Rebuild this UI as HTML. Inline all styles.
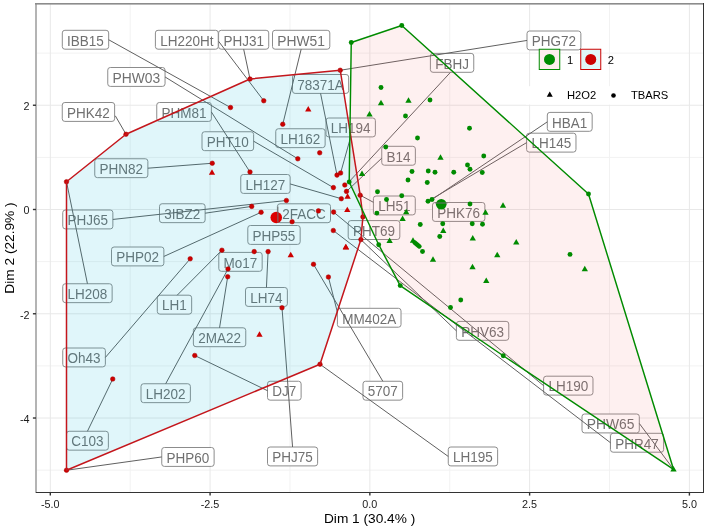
<!DOCTYPE html><html><head><meta charset="utf-8"><style>html,body{margin:0;padding:0;background:#fff;}svg{display:block;will-change:transform;filter:blur(0.3px);}</style></head><body><svg width="708" height="532" viewBox="0 0 708 532" font-family="&quot;Liberation Sans&quot;, sans-serif">
<rect x="0" y="0" width="708" height="532" fill="#fff"/>
<defs><clipPath id="pc"><rect x="36" y="3.6" width="667.3" height="488.9"/></clipPath></defs>
<line x1="130.19" y1="3.6" x2="130.19" y2="492.5" stroke="#f2f2f2" stroke-width="1"/>
<line x1="289.96" y1="3.6" x2="289.96" y2="492.5" stroke="#f2f2f2" stroke-width="1"/>
<line x1="449.74" y1="3.6" x2="449.74" y2="492.5" stroke="#f2f2f2" stroke-width="1"/>
<line x1="609.51" y1="3.6" x2="609.51" y2="492.5" stroke="#f2f2f2" stroke-width="1"/>
<line x1="36" y1="53.11" x2="703.3" y2="53.11" stroke="#f2f2f2" stroke-width="1"/>
<line x1="36" y1="157.37" x2="703.3" y2="157.37" stroke="#f2f2f2" stroke-width="1"/>
<line x1="36" y1="261.63" x2="703.3" y2="261.63" stroke="#f2f2f2" stroke-width="1"/>
<line x1="36" y1="365.89" x2="703.3" y2="365.89" stroke="#f2f2f2" stroke-width="1"/>
<line x1="36" y1="470.15" x2="703.3" y2="470.15" stroke="#f2f2f2" stroke-width="1"/>
<line x1="50.30" y1="3.6" x2="50.30" y2="492.5" stroke="#e8e8e8" stroke-width="1"/>
<line x1="210.08" y1="3.6" x2="210.08" y2="492.5" stroke="#e8e8e8" stroke-width="1"/>
<line x1="369.85" y1="3.6" x2="369.85" y2="492.5" stroke="#e8e8e8" stroke-width="1"/>
<line x1="529.62" y1="3.6" x2="529.62" y2="492.5" stroke="#e8e8e8" stroke-width="1"/>
<line x1="689.40" y1="3.6" x2="689.40" y2="492.5" stroke="#e8e8e8" stroke-width="1"/>
<line x1="36" y1="105.24" x2="703.3" y2="105.24" stroke="#e8e8e8" stroke-width="1"/>
<line x1="36" y1="209.50" x2="703.3" y2="209.50" stroke="#e8e8e8" stroke-width="1"/>
<line x1="36" y1="313.76" x2="703.3" y2="313.76" stroke="#e8e8e8" stroke-width="1"/>
<line x1="36" y1="418.02" x2="703.3" y2="418.02" stroke="#e8e8e8" stroke-width="1"/>
<rect x="156.75" y="102.50" width="54.62" height="18.90" rx="2.6" fill="#fff" stroke="#8c8c8c" stroke-width="1"/>
<text x="161.55" y="117.70" font-size="13.8" fill="#707070" textLength="45.02" lengthAdjust="spacingAndGlyphs">PHM81</text>
<rect x="107.75" y="67.50" width="57.31" height="18.90" rx="2.6" fill="#fff" stroke="#8c8c8c" stroke-width="1"/>
<text x="112.55" y="82.70" font-size="13.8" fill="#707070" textLength="47.71" lengthAdjust="spacingAndGlyphs">PHW03</text>
<rect x="62.30" y="30.30" width="46.38" height="18.90" rx="2.6" fill="#fff" stroke="#8c8c8c" stroke-width="1"/>
<text x="67.10" y="45.50" font-size="13.8" fill="#707070" textLength="36.78" lengthAdjust="spacingAndGlyphs">IBB15</text>
<rect x="218.60" y="30.30" width="50.12" height="18.90" rx="2.6" fill="#fff" stroke="#8c8c8c" stroke-width="1"/>
<text x="223.40" y="45.50" font-size="13.8" fill="#707070" textLength="40.52" lengthAdjust="spacingAndGlyphs">PHJ31</text>
<rect x="155.40" y="30.30" width="62.88" height="18.90" rx="2.6" fill="#fff" stroke="#8c8c8c" stroke-width="1"/>
<text x="160.20" y="45.50" font-size="13.8" fill="#707070" textLength="53.28" lengthAdjust="spacingAndGlyphs">LH220Ht</text>
<rect x="272.50" y="30.30" width="57.31" height="18.90" rx="2.6" fill="#fff" stroke="#8c8c8c" stroke-width="1"/>
<text x="277.30" y="45.50" font-size="13.8" fill="#707070" textLength="47.71" lengthAdjust="spacingAndGlyphs">PHW51</text>
<rect x="527.00" y="31.00" width="53.87" height="18.90" rx="2.6" fill="#fff" stroke="#8c8c8c" stroke-width="1"/>
<text x="531.80" y="46.20" font-size="13.8" fill="#707070" textLength="44.27" lengthAdjust="spacingAndGlyphs">PHG72</text>
<rect x="430.40" y="53.40" width="43.35" height="18.90" rx="2.6" fill="#fff" stroke="#8c8c8c" stroke-width="1"/>
<text x="435.20" y="68.60" font-size="13.8" fill="#707070" textLength="33.75" lengthAdjust="spacingAndGlyphs">FBHJ</text>
<rect x="292.50" y="74.50" width="56.15" height="18.90" rx="2.6" fill="#fff" stroke="#8c8c8c" stroke-width="1"/>
<text x="297.30" y="89.70" font-size="13.8" fill="#707070" textLength="46.55" lengthAdjust="spacingAndGlyphs">78371A</text>
<rect x="62.25" y="102.50" width="52.37" height="18.90" rx="2.6" fill="#fff" stroke="#8c8c8c" stroke-width="1"/>
<text x="67.05" y="117.70" font-size="13.8" fill="#707070" textLength="42.77" lengthAdjust="spacingAndGlyphs">PHK42</text>
<rect x="326.00" y="118.00" width="49.38" height="18.90" rx="2.6" fill="#fff" stroke="#8c8c8c" stroke-width="1"/>
<text x="330.80" y="133.20" font-size="13.8" fill="#707070" textLength="39.78" lengthAdjust="spacingAndGlyphs">LH194</text>
<rect x="526.60" y="133.20" width="49.38" height="18.90" rx="2.6" fill="#fff" stroke="#8c8c8c" stroke-width="1"/>
<text x="531.40" y="148.40" font-size="13.8" fill="#707070" textLength="39.78" lengthAdjust="spacingAndGlyphs">LH145</text>
<rect x="547.30" y="112.40" width="44.87" height="18.90" rx="2.6" fill="#fff" stroke="#8c8c8c" stroke-width="1"/>
<text x="552.10" y="127.60" font-size="13.8" fill="#707070" textLength="35.27" lengthAdjust="spacingAndGlyphs">HBA1</text>
<rect x="202.00" y="131.75" width="51.62" height="18.90" rx="2.6" fill="#fff" stroke="#8c8c8c" stroke-width="1"/>
<text x="206.80" y="146.95" font-size="13.8" fill="#707070" textLength="42.02" lengthAdjust="spacingAndGlyphs">PHT10</text>
<rect x="275.75" y="128.75" width="49.38" height="18.90" rx="2.6" fill="#fff" stroke="#8c8c8c" stroke-width="1"/>
<text x="280.55" y="143.95" font-size="13.8" fill="#707070" textLength="39.78" lengthAdjust="spacingAndGlyphs">LH162</text>
<rect x="381.75" y="146.30" width="33.62" height="18.90" rx="2.6" fill="#fff" stroke="#8c8c8c" stroke-width="1"/>
<text x="386.55" y="161.50" font-size="13.8" fill="#707070" textLength="24.02" lengthAdjust="spacingAndGlyphs">B14</text>
<rect x="94.75" y="158.75" width="53.12" height="18.90" rx="2.6" fill="#fff" stroke="#8c8c8c" stroke-width="1"/>
<text x="99.55" y="173.95" font-size="13.8" fill="#707070" textLength="43.52" lengthAdjust="spacingAndGlyphs">PHN82</text>
<rect x="240.75" y="174.50" width="49.38" height="18.90" rx="2.6" fill="#fff" stroke="#8c8c8c" stroke-width="1"/>
<text x="245.55" y="189.70" font-size="13.8" fill="#707070" textLength="39.78" lengthAdjust="spacingAndGlyphs">LH127</text>
<rect x="373.40" y="196.00" width="41.87" height="18.90" rx="2.6" fill="#fff" stroke="#8c8c8c" stroke-width="1"/>
<text x="378.20" y="211.20" font-size="13.8" fill="#707070" textLength="32.27" lengthAdjust="spacingAndGlyphs">LH51</text>
<rect x="432.50" y="202.50" width="52.37" height="18.90" rx="2.6" fill="#fff" stroke="#8c8c8c" stroke-width="1"/>
<text x="437.30" y="217.70" font-size="13.8" fill="#707070" textLength="42.77" lengthAdjust="spacingAndGlyphs">PHK76</text>
<rect x="159.50" y="203.75" width="45.62" height="18.90" rx="2.6" fill="#fff" stroke="#8c8c8c" stroke-width="1"/>
<text x="164.30" y="218.95" font-size="13.8" fill="#707070" textLength="36.02" lengthAdjust="spacingAndGlyphs">3IBZ2</text>
<rect x="62.75" y="210.00" width="50.12" height="18.90" rx="2.6" fill="#fff" stroke="#8c8c8c" stroke-width="1"/>
<text x="67.55" y="225.20" font-size="13.8" fill="#707070" textLength="40.52" lengthAdjust="spacingAndGlyphs">PHJ65</text>
<rect x="277.40" y="203.80" width="53.11" height="18.90" rx="2.6" fill="#fff" stroke="#8c8c8c" stroke-width="1"/>
<text x="282.20" y="219.00" font-size="13.8" fill="#707070" textLength="43.51" lengthAdjust="spacingAndGlyphs">2FACC</text>
<rect x="348.20" y="220.60" width="51.62" height="18.90" rx="2.6" fill="#fff" stroke="#8c8c8c" stroke-width="1"/>
<text x="353.00" y="235.80" font-size="13.8" fill="#707070" textLength="42.02" lengthAdjust="spacingAndGlyphs">PHT69</text>
<rect x="247.80" y="225.50" width="52.37" height="18.90" rx="2.6" fill="#fff" stroke="#8c8c8c" stroke-width="1"/>
<text x="252.60" y="240.70" font-size="13.8" fill="#707070" textLength="42.77" lengthAdjust="spacingAndGlyphs">PHP55</text>
<rect x="111.50" y="247.00" width="52.37" height="18.90" rx="2.6" fill="#fff" stroke="#8c8c8c" stroke-width="1"/>
<text x="116.30" y="262.20" font-size="13.8" fill="#707070" textLength="42.77" lengthAdjust="spacingAndGlyphs">PHP02</text>
<rect x="218.80" y="252.40" width="43.37" height="18.90" rx="2.6" fill="#fff" stroke="#8c8c8c" stroke-width="1"/>
<text x="223.60" y="267.60" font-size="13.8" fill="#707070" textLength="33.77" lengthAdjust="spacingAndGlyphs">Mo17</text>
<rect x="157.30" y="295.20" width="34.37" height="18.90" rx="2.6" fill="#fff" stroke="#8c8c8c" stroke-width="1"/>
<text x="162.10" y="310.40" font-size="13.8" fill="#707070" textLength="24.77" lengthAdjust="spacingAndGlyphs">LH1</text>
<rect x="245.50" y="287.50" width="41.87" height="18.90" rx="2.6" fill="#fff" stroke="#8c8c8c" stroke-width="1"/>
<text x="250.30" y="302.70" font-size="13.8" fill="#707070" textLength="32.27" lengthAdjust="spacingAndGlyphs">LH74</text>
<rect x="62.75" y="283.75" width="49.38" height="18.90" rx="2.6" fill="#fff" stroke="#8c8c8c" stroke-width="1"/>
<text x="67.55" y="298.95" font-size="13.8" fill="#707070" textLength="39.78" lengthAdjust="spacingAndGlyphs">LH208</text>
<rect x="337.40" y="308.30" width="63.62" height="18.90" rx="2.6" fill="#fff" stroke="#8c8c8c" stroke-width="1"/>
<text x="342.20" y="323.50" font-size="13.8" fill="#707070" textLength="54.02" lengthAdjust="spacingAndGlyphs">MM402A</text>
<rect x="193.38" y="327.80" width="52.37" height="18.90" rx="2.6" fill="#fff" stroke="#8c8c8c" stroke-width="1"/>
<text x="198.18" y="343.00" font-size="13.8" fill="#707070" textLength="42.77" lengthAdjust="spacingAndGlyphs">2MA22</text>
<rect x="456.40" y="321.40" width="52.37" height="18.90" rx="2.6" fill="#fff" stroke="#8c8c8c" stroke-width="1"/>
<text x="461.20" y="336.60" font-size="13.8" fill="#707070" textLength="42.77" lengthAdjust="spacingAndGlyphs">PHV63</text>
<rect x="62.75" y="348.00" width="42.63" height="18.90" rx="2.6" fill="#fff" stroke="#8c8c8c" stroke-width="1"/>
<text x="67.55" y="363.20" font-size="13.8" fill="#707070" textLength="33.03" lengthAdjust="spacingAndGlyphs">Oh43</text>
<rect x="141.00" y="383.75" width="49.38" height="18.90" rx="2.6" fill="#fff" stroke="#8c8c8c" stroke-width="1"/>
<text x="145.80" y="398.95" font-size="13.8" fill="#707070" textLength="39.78" lengthAdjust="spacingAndGlyphs">LH202</text>
<rect x="267.50" y="381.25" width="33.61" height="18.90" rx="2.6" fill="#fff" stroke="#8c8c8c" stroke-width="1"/>
<text x="272.30" y="396.45" font-size="13.8" fill="#707070" textLength="24.01" lengthAdjust="spacingAndGlyphs">DJ7</text>
<rect x="363.00" y="381.25" width="39.63" height="18.90" rx="2.6" fill="#fff" stroke="#8c8c8c" stroke-width="1"/>
<text x="367.80" y="396.45" font-size="13.8" fill="#707070" textLength="30.03" lengthAdjust="spacingAndGlyphs">5707</text>
<rect x="610.50" y="433.30" width="53.12" height="18.90" rx="2.6" fill="#fff" stroke="#8c8c8c" stroke-width="1"/>
<text x="615.30" y="448.50" font-size="13.8" fill="#707070" textLength="43.52" lengthAdjust="spacingAndGlyphs">PHR47</text>
<rect x="543.60" y="376.20" width="49.38" height="18.90" rx="2.6" fill="#fff" stroke="#8c8c8c" stroke-width="1"/>
<text x="548.40" y="391.40" font-size="13.8" fill="#707070" textLength="39.78" lengthAdjust="spacingAndGlyphs">LH190</text>
<rect x="582.00" y="414.00" width="57.31" height="18.90" rx="2.6" fill="#fff" stroke="#8c8c8c" stroke-width="1"/>
<text x="586.80" y="429.20" font-size="13.8" fill="#707070" textLength="47.71" lengthAdjust="spacingAndGlyphs">PHW65</text>
<rect x="66.50" y="431.25" width="41.87" height="18.90" rx="2.6" fill="#fff" stroke="#8c8c8c" stroke-width="1"/>
<text x="71.30" y="446.45" font-size="13.8" fill="#707070" textLength="32.27" lengthAdjust="spacingAndGlyphs">C103</text>
<rect x="448.25" y="447.00" width="49.38" height="18.90" rx="2.6" fill="#fff" stroke="#8c8c8c" stroke-width="1"/>
<text x="453.05" y="462.20" font-size="13.8" fill="#707070" textLength="39.78" lengthAdjust="spacingAndGlyphs">LH195</text>
<rect x="161.75" y="447.50" width="52.37" height="18.90" rx="2.6" fill="#fff" stroke="#8c8c8c" stroke-width="1"/>
<text x="166.55" y="462.70" font-size="13.8" fill="#707070" textLength="42.77" lengthAdjust="spacingAndGlyphs">PHP60</text>
<rect x="267.50" y="447.00" width="50.12" height="18.90" rx="2.6" fill="#fff" stroke="#8c8c8c" stroke-width="1"/>
<text x="272.30" y="462.20" font-size="13.8" fill="#707070" textLength="40.52" lengthAdjust="spacingAndGlyphs">PHJ75</text>
<line x1="211.37" y1="111.95" x2="250.00" y2="172.00" stroke="#606060" stroke-width="1.0"/>
<line x1="165.06" y1="76.95" x2="297.80" y2="158.80" stroke="#606060" stroke-width="1.0"/>
<line x1="108.68" y1="39.75" x2="230.50" y2="107.50" stroke="#606060" stroke-width="1.0"/>
<line x1="243.66" y1="49.20" x2="250.00" y2="79.00" stroke="#606060" stroke-width="1.0"/>
<line x1="218.60" y1="41.30" x2="263.75" y2="100.75" stroke="#606060" stroke-width="1.0"/>
<line x1="301.16" y1="49.20" x2="282.75" y2="124.25" stroke="#606060" stroke-width="1.0"/>
<line x1="527.00" y1="40.45" x2="340.25" y2="70.25" stroke="#606060" stroke-width="1.0"/>
<line x1="450.40" y1="72.40" x2="348.70" y2="182.20" stroke="#606060" stroke-width="1.0"/>
<line x1="320.57" y1="93.40" x2="337.00" y2="175.10" stroke="#606060" stroke-width="1.0"/>
<line x1="115.30" y1="115.80" x2="126.00" y2="134.25" stroke="#606060" stroke-width="1.0"/>
<line x1="350.69" y1="136.90" x2="340.60" y2="173.00" stroke="#606060" stroke-width="1.0"/>
<line x1="526.60" y1="142.65" x2="428.00" y2="201.25" stroke="#606060" stroke-width="1.0"/>
<line x1="547.30" y1="121.85" x2="432.00" y2="199.50" stroke="#606060" stroke-width="1.0"/>
<line x1="253.62" y1="141.20" x2="333.40" y2="187.60" stroke="#606060" stroke-width="1.0"/>
<line x1="381.75" y1="158.20" x2="346.50" y2="191.40" stroke="#606060" stroke-width="1.0"/>
<line x1="147.87" y1="168.20" x2="212.25" y2="163.25" stroke="#606060" stroke-width="1.0"/>
<line x1="290.13" y1="183.95" x2="341.30" y2="198.70" stroke="#606060" stroke-width="1.0"/>
<line x1="373.40" y1="202.30" x2="360.20" y2="195.20" stroke="#606060" stroke-width="1.0"/>
<line x1="205.12" y1="213.20" x2="251.70" y2="206.40" stroke="#606060" stroke-width="1.0"/>
<line x1="112.87" y1="219.45" x2="286.40" y2="200.50" stroke="#606060" stroke-width="1.0"/>
<line x1="163.87" y1="256.45" x2="261.10" y2="212.30" stroke="#606060" stroke-width="1.0"/>
<line x1="177.20" y1="295.20" x2="221.90" y2="250.20" stroke="#606060" stroke-width="1.0"/>
<line x1="266.44" y1="287.50" x2="268.10" y2="251.60" stroke="#606060" stroke-width="1.0"/>
<line x1="87.44" y1="283.75" x2="66.50" y2="181.75" stroke="#606060" stroke-width="1.0"/>
<line x1="337.40" y1="312.30" x2="328.40" y2="277.00" stroke="#606060" stroke-width="1.0"/>
<line x1="219.56" y1="327.80" x2="227.70" y2="276.70" stroke="#606060" stroke-width="1.0"/>
<line x1="456.40" y1="330.85" x2="360.90" y2="239.60" stroke="#606060" stroke-width="1.0"/>
<line x1="105.38" y1="357.45" x2="190.20" y2="258.80" stroke="#606060" stroke-width="1.0"/>
<line x1="165.69" y1="383.75" x2="228.00" y2="269.00" stroke="#606060" stroke-width="1.0"/>
<line x1="267.50" y1="390.70" x2="194.75" y2="355.50" stroke="#606060" stroke-width="1.0"/>
<line x1="382.82" y1="381.25" x2="313.50" y2="264.30" stroke="#606060" stroke-width="1.0"/>
<line x1="610.50" y1="442.75" x2="333.30" y2="230.50" stroke="#606060" stroke-width="1.0"/>
<line x1="543.60" y1="385.65" x2="333.60" y2="212.10" stroke="#606060" stroke-width="1.0"/>
<line x1="639.31" y1="423.45" x2="673.50" y2="469.30" stroke="#606060" stroke-width="1.0"/>
<line x1="87.44" y1="431.25" x2="112.75" y2="379.00" stroke="#606060" stroke-width="1.0"/>
<line x1="448.25" y1="456.45" x2="320.00" y2="364.25" stroke="#606060" stroke-width="1.0"/>
<line x1="161.75" y1="456.95" x2="66.50" y2="470.25" stroke="#606060" stroke-width="1.0"/>
<line x1="292.56" y1="447.00" x2="282.00" y2="307.75" stroke="#606060" stroke-width="1.0"/>
<polygon points="66.50,181.75 126.00,134.25 250.00,79.00 340.25,70.25 360.20,195.20 362.90,216.90 360.90,239.60 320.00,364.25 66.50,470.25" fill="#00B9D7" fill-opacity="0.12" stroke="none"/>
<polygon points="351.25,42.50 401.75,25.50 588.50,194.00 673.50,469.30 503.25,355.75 400.20,285.60 378.70,244.70 349.20,182.00" fill="#F8766D" fill-opacity="0.105" stroke="none"/>
<circle cx="230.5" cy="107.5" r="2.3000000000000003" fill="#CC0000" stroke="#A80000" stroke-width="0.5"/>
<circle cx="263.75" cy="100.75" r="2.3000000000000003" fill="#CC0000" stroke="#A80000" stroke-width="0.5"/>
<circle cx="250" cy="79" r="2.3000000000000003" fill="#CC0000" stroke="#A80000" stroke-width="0.5"/>
<circle cx="282.75" cy="124.25" r="2.3000000000000003" fill="#CC0000" stroke="#A80000" stroke-width="0.5"/>
<circle cx="340.25" cy="70.25" r="2.3000000000000003" fill="#CC0000" stroke="#A80000" stroke-width="0.5"/>
<circle cx="126" cy="134.25" r="2.3000000000000003" fill="#CC0000" stroke="#A80000" stroke-width="0.5"/>
<circle cx="66.5" cy="181.75" r="2.3000000000000003" fill="#CC0000" stroke="#A80000" stroke-width="0.5"/>
<circle cx="212.25" cy="163.25" r="2.3000000000000003" fill="#CC0000" stroke="#A80000" stroke-width="0.5"/>
<circle cx="319.7" cy="152.8" r="2.3000000000000003" fill="#CC0000" stroke="#A80000" stroke-width="0.5"/>
<circle cx="297.8" cy="158.8" r="2.3000000000000003" fill="#CC0000" stroke="#A80000" stroke-width="0.5"/>
<circle cx="337" cy="175.1" r="2.3000000000000003" fill="#CC0000" stroke="#A80000" stroke-width="0.5"/>
<circle cx="340.6" cy="173.0" r="2.3000000000000003" fill="#CC0000" stroke="#A80000" stroke-width="0.5"/>
<circle cx="333.4" cy="187.6" r="2.3000000000000003" fill="#CC0000" stroke="#A80000" stroke-width="0.5"/>
<circle cx="344.8" cy="185.0" r="2.3000000000000003" fill="#CC0000" stroke="#A80000" stroke-width="0.5"/>
<circle cx="346.5" cy="191.4" r="2.3000000000000003" fill="#CC0000" stroke="#A80000" stroke-width="0.5"/>
<circle cx="341.3" cy="198.7" r="2.3000000000000003" fill="#CC0000" stroke="#A80000" stroke-width="0.5"/>
<circle cx="360.2" cy="195.2" r="2.3000000000000003" fill="#CC0000" stroke="#A80000" stroke-width="0.5"/>
<circle cx="333.6" cy="212.1" r="2.3000000000000003" fill="#CC0000" stroke="#A80000" stroke-width="0.5"/>
<circle cx="318.4" cy="210.9" r="2.3000000000000003" fill="#CC0000" stroke="#A80000" stroke-width="0.5"/>
<circle cx="362.9" cy="216.9" r="2.3000000000000003" fill="#CC0000" stroke="#A80000" stroke-width="0.5"/>
<circle cx="292.1" cy="221.7" r="2.3000000000000003" fill="#CC0000" stroke="#A80000" stroke-width="0.5"/>
<circle cx="250" cy="172" r="2.3000000000000003" fill="#CC0000" stroke="#A80000" stroke-width="0.5"/>
<circle cx="286.4" cy="200.5" r="2.3000000000000003" fill="#CC0000" stroke="#A80000" stroke-width="0.5"/>
<circle cx="251.7" cy="206.4" r="2.3000000000000003" fill="#CC0000" stroke="#A80000" stroke-width="0.5"/>
<circle cx="261.1" cy="212.3" r="2.3000000000000003" fill="#CC0000" stroke="#A80000" stroke-width="0.5"/>
<circle cx="333.3" cy="230.5" r="2.3000000000000003" fill="#CC0000" stroke="#A80000" stroke-width="0.5"/>
<circle cx="360.9" cy="239.6" r="2.3000000000000003" fill="#CC0000" stroke="#A80000" stroke-width="0.5"/>
<circle cx="190.2" cy="258.8" r="2.3000000000000003" fill="#CC0000" stroke="#A80000" stroke-width="0.5"/>
<circle cx="221.9" cy="250.2" r="2.3000000000000003" fill="#CC0000" stroke="#A80000" stroke-width="0.5"/>
<circle cx="254.2" cy="251.6" r="2.3000000000000003" fill="#CC0000" stroke="#A80000" stroke-width="0.5"/>
<circle cx="268.1" cy="251.6" r="2.3000000000000003" fill="#CC0000" stroke="#A80000" stroke-width="0.5"/>
<circle cx="228" cy="269" r="2.3000000000000003" fill="#CC0000" stroke="#A80000" stroke-width="0.5"/>
<circle cx="227.7" cy="276.7" r="2.3000000000000003" fill="#CC0000" stroke="#A80000" stroke-width="0.5"/>
<circle cx="313.5" cy="264.3" r="2.3000000000000003" fill="#CC0000" stroke="#A80000" stroke-width="0.5"/>
<circle cx="328.4" cy="277" r="2.3000000000000003" fill="#CC0000" stroke="#A80000" stroke-width="0.5"/>
<circle cx="282" cy="307.75" r="2.3000000000000003" fill="#CC0000" stroke="#A80000" stroke-width="0.5"/>
<circle cx="320" cy="364.25" r="2.3000000000000003" fill="#CC0000" stroke="#A80000" stroke-width="0.5"/>
<circle cx="194.75" cy="355.5" r="2.3000000000000003" fill="#CC0000" stroke="#A80000" stroke-width="0.5"/>
<circle cx="66.5" cy="470.25" r="2.3000000000000003" fill="#CC0000" stroke="#A80000" stroke-width="0.5"/>
<circle cx="112.75" cy="379" r="2.3000000000000003" fill="#CC0000" stroke="#A80000" stroke-width="0.5"/>
<circle cx="381" cy="87.5" r="2.45" fill="#008B00"/>
<circle cx="430" cy="100" r="2.45" fill="#008B00"/>
<circle cx="405.5" cy="116" r="2.45" fill="#008B00"/>
<circle cx="469.5" cy="128.25" r="2.45" fill="#008B00"/>
<circle cx="417.5" cy="138" r="2.45" fill="#008B00"/>
<circle cx="385.75" cy="147" r="2.45" fill="#008B00"/>
<circle cx="483.75" cy="156" r="2.45" fill="#008B00"/>
<circle cx="467.5" cy="165" r="2.45" fill="#008B00"/>
<circle cx="470" cy="169.25" r="2.45" fill="#008B00"/>
<circle cx="412" cy="171.5" r="2.45" fill="#008B00"/>
<circle cx="428.25" cy="171" r="2.45" fill="#008B00"/>
<circle cx="435" cy="172.25" r="2.45" fill="#008B00"/>
<circle cx="453.75" cy="172.25" r="2.45" fill="#008B00"/>
<circle cx="482.25" cy="172.5" r="2.45" fill="#008B00"/>
<circle cx="408" cy="180" r="2.45" fill="#008B00"/>
<circle cx="427.25" cy="182.5" r="2.45" fill="#008B00"/>
<circle cx="377.5" cy="191.75" r="2.45" fill="#008B00"/>
<circle cx="401.75" cy="195.75" r="2.45" fill="#008B00"/>
<circle cx="386.5" cy="199.5" r="2.45" fill="#008B00"/>
<circle cx="428" cy="201.25" r="2.45" fill="#008B00"/>
<circle cx="432" cy="199.5" r="2.45" fill="#008B00"/>
<circle cx="470" cy="204" r="2.45" fill="#008B00"/>
<circle cx="376.9" cy="213.1" r="2.45" fill="#008B00"/>
<circle cx="420.25" cy="224.5" r="2.45" fill="#008B00"/>
<circle cx="442.75" cy="223.75" r="2.45" fill="#008B00"/>
<circle cx="472.25" cy="223.75" r="2.45" fill="#008B00"/>
<circle cx="482.5" cy="224.25" r="2.45" fill="#008B00"/>
<circle cx="439.75" cy="236.5" r="2.45" fill="#008B00"/>
<circle cx="378.7" cy="244.7" r="2.45" fill="#008B00"/>
<circle cx="422.5" cy="251.5" r="2.45" fill="#008B00"/>
<circle cx="460.75" cy="300" r="2.45" fill="#008B00"/>
<circle cx="450.5" cy="307.5" r="2.45" fill="#008B00"/>
<circle cx="503.25" cy="355.75" r="2.45" fill="#008B00"/>
<circle cx="570" cy="254.4" r="2.45" fill="#008B00"/>
<circle cx="401.75" cy="25.5" r="2.45" fill="#008B00"/>
<circle cx="351.25" cy="42.5" r="2.45" fill="#008B00"/>
<circle cx="588.5" cy="194" r="2.45" fill="#008B00"/>
<circle cx="400.2" cy="285.6" r="2.45" fill="#008B00"/>
<circle cx="349.2" cy="182" r="2.45" fill="#008B00"/>
<polygon points="308.25,106.01 305.10,111.47 311.40,111.47" fill="#CC0000"/>
<polygon points="212.00,169.26 208.85,174.72 215.15,174.72" fill="#CC0000"/>
<polygon points="347.60,193.36 344.45,198.82 350.75,198.82" fill="#CC0000"/>
<polygon points="347.30,206.66 344.15,212.12 350.45,212.12" fill="#CC0000"/>
<polygon points="346.00,244.06 342.85,249.52 349.15,249.52" fill="#CC0000"/>
<polygon points="290.75,251.76 287.60,257.22 293.90,257.22" fill="#CC0000"/>
<polygon points="345.75,243.76 342.60,249.22 348.90,249.22" fill="#CC0000"/>
<polygon points="259.50,331.26 256.35,336.72 262.65,336.72" fill="#CC0000"/>
<polygon points="381.00,99.76 377.85,105.22 384.15,105.22" fill="#008B00"/>
<polygon points="408.50,97.26 405.35,102.72 411.65,102.72" fill="#008B00"/>
<polygon points="369.50,111.01 366.35,116.47 372.65,116.47" fill="#008B00"/>
<polygon points="440.50,154.26 437.35,159.72 443.65,159.72" fill="#008B00"/>
<polygon points="362.00,170.46 358.85,175.92 365.15,175.92" fill="#008B00"/>
<polygon points="503.00,202.26 499.85,207.72 506.15,207.72" fill="#008B00"/>
<polygon points="406.20,208.86 403.05,214.32 409.35,214.32" fill="#008B00"/>
<polygon points="402.60,215.56 399.45,221.02 405.75,221.02" fill="#008B00"/>
<polygon points="485.50,209.26 482.35,214.72 488.65,214.72" fill="#008B00"/>
<polygon points="443.25,227.51 440.10,232.97 446.40,232.97" fill="#008B00"/>
<polygon points="472.75,235.01 469.60,240.47 475.90,240.47" fill="#008B00"/>
<polygon points="389.60,237.46 386.45,242.92 392.75,242.92" fill="#008B00"/>
<polygon points="516.25,239.01 513.10,244.47 519.40,244.47" fill="#008B00"/>
<polygon points="433.00,256.26 429.85,261.72 436.15,261.72" fill="#008B00"/>
<polygon points="472.50,263.76 469.35,269.22 475.65,269.22" fill="#008B00"/>
<polygon points="486.25,277.51 483.10,282.97 489.40,282.97" fill="#008B00"/>
<polygon points="497.25,251.76 494.10,257.22 500.40,257.22" fill="#008B00"/>
<polygon points="584.80,265.86 581.65,271.32 587.95,271.32" fill="#008B00"/>
<polygon points="673.50,466.06 670.35,471.52 676.65,471.52" fill="#008B00"/>
<polygon points="413.00,237.26 409.85,242.72 416.15,242.72" fill="#008B00"/>
<line x1="414.6" y1="242.4" x2="419.4" y2="246.4" stroke="#008B00" stroke-width="4.6" stroke-linecap="round"/>
<polygon points="66.50,181.75 126.00,134.25 250.00,79.00 340.25,70.25 360.20,195.20 362.90,216.90 360.90,239.60 320.00,364.25 66.50,470.25" fill="none" stroke="#C4161C" stroke-width="1.5" stroke-linejoin="round"/>
<polygon points="351.25,42.50 401.75,25.50 588.50,194.00 673.50,469.30 503.25,355.75 400.20,285.60 378.70,244.70 349.20,182.00" fill="none" stroke="#008B00" stroke-width="1.45" stroke-linejoin="round"/>
<circle cx="276.25" cy="217.5" r="5.8" fill="#DD0000"/>
<circle cx="441.25" cy="204.25" r="5.3" fill="#008B00"/>
<line x1="277.9" y1="206.5" x2="277.9" y2="222.5" stroke="#707070" stroke-width="1"/>
<line x1="435" y1="203.0" x2="447.5" y2="203.0" stroke="#707070" stroke-width="1"/>
<rect x="539.25" y="49.25" width="20.5" height="20.25" fill="#FEEDEC" stroke="#008B00" stroke-width="1"/>
<circle cx="549.5" cy="59.4" r="5.5" fill="#008B00"/>
<text x="567" y="63.5" font-size="11.2" fill="#000">1</text>
<rect x="580.75" y="49.25" width="20" height="20.25" fill="#E0F6F7" stroke="#CC0000" stroke-width="1"/>
<circle cx="590.75" cy="59.4" r="5.5" fill="#CC0000"/>
<text x="607.8" y="63.5" font-size="11.2" fill="#000">2</text>
<rect x="526" y="86.2" width="154" height="18.4" fill="#fff"/>
<polygon points="549.75,91.54 546.75,96.73 552.75,96.73" fill="#000"/>
<text x="567" y="99.3" font-size="11.2" fill="#000">H2O2</text>
<circle cx="613.5" cy="95.5" r="2.3" fill="#000"/>
<text x="631" y="99.3" font-size="11.2" fill="#000">TBARS</text>
<rect x="35" y="3" width="2" height="490" fill="#b4b4b4"/>
<rect x="35" y="3" width="669" height="1.6" fill="#8c8c8c"/>
<rect x="703" y="3" width="1" height="490" fill="#333"/>
<rect x="36" y="492" width="668" height="1" fill="#333"/>
<line x1="50.30" y1="492.5" x2="50.30" y2="495.6" stroke="#333" stroke-width="1.4"/>
<text x="50.30" y="507.5" font-size="10.8" fill="#1a1a1a" text-anchor="middle">-5.0</text>
<line x1="210.08" y1="492.5" x2="210.08" y2="495.6" stroke="#333" stroke-width="1.4"/>
<text x="210.08" y="507.5" font-size="10.8" fill="#1a1a1a" text-anchor="middle">-2.5</text>
<line x1="369.85" y1="492.5" x2="369.85" y2="495.6" stroke="#333" stroke-width="1.4"/>
<text x="369.85" y="507.5" font-size="10.8" fill="#1a1a1a" text-anchor="middle">0.0</text>
<line x1="529.62" y1="492.5" x2="529.62" y2="495.6" stroke="#333" stroke-width="1.4"/>
<text x="529.62" y="507.5" font-size="10.8" fill="#1a1a1a" text-anchor="middle">2.5</text>
<line x1="689.40" y1="492.5" x2="689.40" y2="495.6" stroke="#333" stroke-width="1.4"/>
<text x="689.40" y="507.5" font-size="10.8" fill="#1a1a1a" text-anchor="middle">5.0</text>
<line x1="32.9" y1="105.24" x2="36" y2="105.24" stroke="#333" stroke-width="1.4"/>
<text x="29.6" y="110.04" font-size="10.8" fill="#1a1a1a" text-anchor="end">2</text>
<line x1="32.9" y1="209.50" x2="36" y2="209.50" stroke="#333" stroke-width="1.4"/>
<text x="29.6" y="214.30" font-size="10.8" fill="#1a1a1a" text-anchor="end">0</text>
<line x1="32.9" y1="313.76" x2="36" y2="313.76" stroke="#333" stroke-width="1.4"/>
<text x="29.6" y="318.56" font-size="10.8" fill="#1a1a1a" text-anchor="end">-2</text>
<line x1="32.9" y1="418.02" x2="36" y2="418.02" stroke="#333" stroke-width="1.4"/>
<text x="29.6" y="422.82" font-size="10.8" fill="#1a1a1a" text-anchor="end">-4</text>
<text x="369.6" y="523.3" font-size="13.7" fill="#000" text-anchor="middle">Dim 1 (30.4% )</text>
<text transform="translate(14.2,248) rotate(-90)" x="0" y="0" font-size="13.7" fill="#000" text-anchor="middle">Dim 2 (22.9% )</text>
</svg></body></html>
